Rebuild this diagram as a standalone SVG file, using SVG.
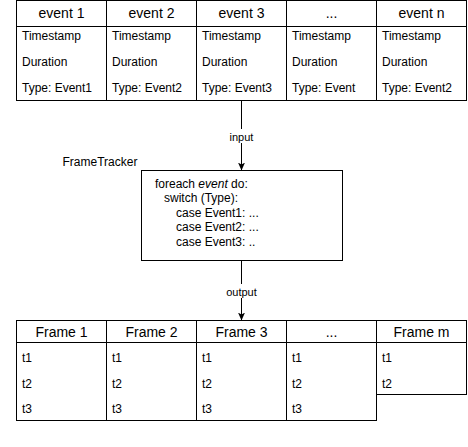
<svg xmlns="http://www.w3.org/2000/svg" width="468" height="447" viewBox="0 0 468 447">
<defs>
<style>
.col{fill:#fff;stroke:#000;stroke-width:1}
.sep{stroke:#000;stroke-width:1}
.hd{font-family:"Liberation Sans",Arial,sans-serif;font-size:14px;fill:#000;text-anchor:middle}
.it{font-family:"Liberation Sans",Arial,sans-serif;font-size:12px;fill:#000}
.lbl{font-family:"Liberation Sans",Arial,sans-serif;font-size:11px;fill:#000;text-anchor:middle}
.edge{stroke:#000;stroke-width:1;fill:none}
</style>
<marker id="arr" viewBox="0 0 8 8" refX="8" refY="4" markerWidth="8" markerHeight="8" markerUnits="userSpaceOnUse" orient="auto">
<path d="M0,0.5 L8,4 L0,7.5 L2,4 Z" fill="#000"/>
</marker>
</defs>
<rect width="468" height="447" fill="#fff"/>

<g id="event1">
<rect class="col" x="16.5" y="0.5" width="90" height="100"/>
<line class="sep" x1="16.5" y1="26.5" x2="106.5" y2="26.5"/>
<text class="hd" x="61.5" y="17.5">event 1</text>
<text class="it" x="22" y="40">Timestamp</text>
<text class="it" x="22" y="66">Duration</text>
<text class="it" x="22" y="92">Type: Event1</text>
</g>
<g id="event2">
<rect class="col" x="106.5" y="0.5" width="90" height="100"/>
<line class="sep" x1="106.5" y1="26.5" x2="196.5" y2="26.5"/>
<text class="hd" x="151.5" y="17.5">event 2</text>
<text class="it" x="112" y="40">Timestamp</text>
<text class="it" x="112" y="66">Duration</text>
<text class="it" x="112" y="92">Type: Event2</text>
</g>
<g id="event3">
<rect class="col" x="196.5" y="0.5" width="90" height="100"/>
<line class="sep" x1="196.5" y1="26.5" x2="286.5" y2="26.5"/>
<text class="hd" x="241.5" y="17.5">event 3</text>
<text class="it" x="202" y="40">Timestamp</text>
<text class="it" x="202" y="66">Duration</text>
<text class="it" x="202" y="92">Type: Event3</text>
</g>
<g id="event-dots">
<rect class="col" x="286.5" y="0.5" width="90" height="100"/>
<line class="sep" x1="286.5" y1="26.5" x2="376.5" y2="26.5"/>
<text class="hd" x="331.5" y="17.5">...</text>
<text class="it" x="292" y="40">Timestamp</text>
<text class="it" x="292" y="66">Duration</text>
<text class="it" x="292" y="92">Type: Event</text>
</g>
<g id="eventn">
<rect class="col" x="376.5" y="0.5" width="90" height="100"/>
<line class="sep" x1="376.5" y1="26.5" x2="466.5" y2="26.5"/>
<text class="hd" x="421.5" y="17.5">event n</text>
<text class="it" x="382" y="40">Timestamp</text>
<text class="it" x="382" y="66">Duration</text>
<text class="it" x="382" y="92">Type: Event2</text>
</g>

<g id="frametracker">
<text class="it" x="62.5" y="166">FrameTracker</text>
<rect class="col" x="141.5" y="170.5" width="201" height="90"/>
<text class="it" x="155" y="188">foreach <tspan font-style="italic">event</tspan> do:</text>
<text class="it" x="164" y="202.4">switch (Type):</text>
<text class="it" x="176" y="216.8">case Event1: ...</text>
<text class="it" x="176" y="231.2">case Event2: ...</text>
<text class="it" x="176" y="245.6">case Event3: ..</text>
</g>

<g id="frame1">
<rect class="col" x="16.5" y="320.5" width="90" height="100"/>
<line class="sep" x1="16.5" y1="342.5" x2="106.5" y2="342.5"/>
<text class="hd" x="61.5" y="336.5">Frame 1</text>
<text class="it" x="22" y="361.5">t1</text>
<text class="it" x="22" y="387.5">t2</text>
<text class="it" x="22" y="413">t3</text>
</g>
<g id="frame2">
<rect class="col" x="106.5" y="320.5" width="90" height="100"/>
<line class="sep" x1="106.5" y1="342.5" x2="196.5" y2="342.5"/>
<text class="hd" x="151.5" y="336.5">Frame 2</text>
<text class="it" x="112" y="361.5">t1</text>
<text class="it" x="112" y="387.5">t2</text>
<text class="it" x="112" y="413">t3</text>
</g>
<g id="frame3">
<rect class="col" x="196.5" y="320.5" width="90" height="100"/>
<line class="sep" x1="196.5" y1="342.5" x2="286.5" y2="342.5"/>
<text class="hd" x="241.5" y="336.5">Frame 3</text>
<text class="it" x="202" y="361.5">t1</text>
<text class="it" x="202" y="387.5">t2</text>
<text class="it" x="202" y="413">t3</text>
</g>
<g id="frame-dots">
<rect class="col" x="286.5" y="320.5" width="90" height="100"/>
<line class="sep" x1="286.5" y1="342.5" x2="376.5" y2="342.5"/>
<text class="hd" x="331.5" y="336.5">...</text>
<text class="it" x="292" y="361.5">t1</text>
<text class="it" x="292" y="387.5">t2</text>
<text class="it" x="292" y="413">t3</text>
</g>
<g id="framem">
<rect class="col" x="376.5" y="320.5" width="90" height="74"/>
<line class="sep" x1="376.5" y1="342.5" x2="466.5" y2="342.5"/>
<text class="hd" x="421.5" y="336.5">Frame m</text>
<text class="it" x="382" y="361.5">t1</text>
<text class="it" x="382" y="387.5">t2</text>
</g>

<g id="connectors">
<line class="edge" x1="241.5" y1="100.5" x2="241.5" y2="170.5" marker-end="url(#arr)"/>
<rect x="227" y="129" width="29" height="14" fill="#fff"/>
<text class="lbl" x="241.5" y="140.5">input</text>
<line class="edge" x1="241.5" y1="260.5" x2="241.5" y2="320.5" marker-end="url(#arr)"/>
<rect x="224" y="284" width="35" height="14" fill="#fff"/>
<text class="lbl" x="241.5" y="295.5">output</text>
</g>
</svg>
